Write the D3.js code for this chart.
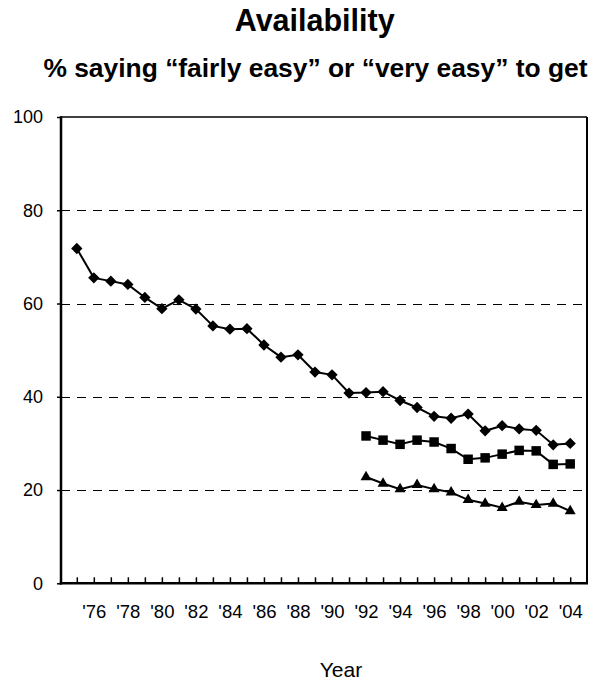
<!DOCTYPE html>
<html>
<head>
<meta charset="utf-8">
<script src="https://cdn.jsdelivr.net/npm/d3@7"></script>
<style>
  html, body { margin: 0; padding: 0; background: #fff; }
  svg { display: block; font-family: "Liberation Sans", Arial, sans-serif; }
</style>
</head>
<body>
<svg id="chart" width="605" height="685"></svg>
<script>
// ---- Data ----
const allYears = [1975,1976,1977,1978,1979,1980,1981,1982,1983,1984,1985,1986,1987,1988,1989,
                  1990,1991,1992,1993,1994,1995,1996,1997,1998,1999,2000,2001,2002,2003,2004];
const diamondValues = [71.8,65.5,64.8,64.1,61.3,58.9,60.8,58.8,55.2,54.5,54.6,51.1,48.5,49.0,45.3,
                       44.7,40.8,40.9,41.1,39.2,37.7,35.8,35.4,36.3,32.7,33.8,33.1,32.8,29.7,30.0];
const laterYears = [1992,1993,1994,1995,1996,1997,1998,1999,2000,2001,2002,2003,2004];
const squareValues = [31.6,30.7,29.8,30.7,30.3,28.9,26.6,26.9,27.7,28.5,28.4,25.5,25.6];
const triangleValues = [22.8,21.4,20.2,21.1,20.2,19.5,17.9,17.1,16.2,17.5,16.8,17.1,15.5];
const yTicks = [0,20,40,60,80,100];
const gridValues = [20,40,60,80];
const labelYears = [1976,1978,1980,1982,1984,1986,1988,1990,1992,1994,1996,1998,2000,2002,2004];
const titleText = "Availability";
const subtitleText = "% saying \u201cfairly easy\u201d or \u201cvery easy\u201d to get";
const xTitle = "Year";

// ---- Layout ----
const svg = d3.select("#chart");
const plotLeft = 61, plotRight = 587, plotTop = 117, plotBottom = 583.3;

const x = d3.scaleLinear().domain([1975, 2004]).range([76.8, 570.2]);
const y = d3.scaleLinear().domain([0, 100]).range([plotBottom, plotTop]);

// Titles
svg.append("text")
  .attr("x", 314.7).attr("y", 31)
  .attr("text-anchor", "middle")
  .attr("font-weight", "bold").attr("font-size", 30.5)
  .text(titleText);
svg.append("text")
  .attr("x", 315.5).attr("y", 76.5)
  .attr("text-anchor", "middle")
  .attr("font-weight", "bold").attr("font-size", 26.4)
  .text(subtitleText);

// Gridlines
svg.append("g").selectAll("line").data(gridValues).join("line")
  .attr("x1", plotLeft).attr("x2", plotRight)
  .attr("y1", d => Math.round(y(d)) + 0.5).attr("y2", d => Math.round(y(d)) + 0.5)
  .attr("stroke", "#000").attr("stroke-width", 1)
  .attr("stroke-dasharray", "9,7");

// Frame top & right
svg.append("line").attr("x1", plotLeft).attr("x2", plotRight)
  .attr("y1", plotTop).attr("y2", plotTop)
  .attr("stroke", "#000").attr("stroke-width", 1.6);
svg.append("line").attr("x1", plotRight).attr("x2", plotRight)
  .attr("y1", plotTop).attr("y2", plotBottom)
  .attr("stroke", "#000").attr("stroke-width", 2);

// Y axis
const yAxis = d3.axisLeft(y).tickValues(yTicks).tickSize(4).tickPadding(14).tickFormat(d3.format("d"));
const gy = svg.append("g").attr("transform", `translate(${plotLeft},0)`).call(yAxis);
gy.select(".domain").remove();
gy.selectAll("line").attr("stroke", "#000").attr("stroke-width", 1.5);
gy.selectAll("text").attr("font-size", 18).attr("fill", "#000")
  .attr("font-family", "Liberation Sans, Arial, sans-serif");
svg.append("line").attr("x1", plotLeft).attr("x2", plotLeft)
  .attr("y1", plotTop - 0.8).attr("y2", plotBottom + 1.2)
  .attr("stroke", "#000").attr("stroke-width", 2.5);

// X axis ticks (inward) for every year
const xTickAxis = d3.axisBottom(x).tickValues(allYears).tickSize(-6).tickFormat("");
const gxt = svg.append("g").attr("transform", `translate(0,${plotBottom})`).call(xTickAxis);
gxt.select(".domain").remove();
gxt.selectAll("line").attr("stroke", "#000").attr("stroke-width", 1.5);

// X axis labels every other year
const xLabelAxis = d3.axisBottom(x).tickValues(labelYears).tickSize(0).tickPadding(22)
  .tickFormat(d => "'" + String(d).slice(2));
const gxl = svg.append("g").attr("transform", `translate(0,${plotBottom})`).call(xLabelAxis);
gxl.select(".domain").remove();
gxl.selectAll("text").attr("font-size", 18.5).attr("fill", "#000")
  .attr("font-family", "Liberation Sans, Arial, sans-serif");

svg.append("line").attr("x1", plotLeft - 1.2).attr("x2", plotRight + 1)
  .attr("y1", plotBottom).attr("y2", plotBottom)
  .attr("stroke", "#000").attr("stroke-width", 2.5);

// X title
svg.append("text")
  .attr("x", 341).attr("y", 677)
  .attr("text-anchor", "middle")
  .attr("font-size", 21)
  .text(xTitle);

// ---- Series ----
const line = d3.line().x(d => x(d[0])).y(d => y(d[1]));
const seriesDiamond = allYears.map((yr, i) => [yr, diamondValues[i]]);
const seriesSquare = laterYears.map((yr, i) => [yr, squareValues[i]]);
const seriesTriangle = laterYears.map((yr, i) => [yr, triangleValues[i]]);

[seriesDiamond, seriesSquare, seriesTriangle].forEach(s => {
  svg.append("path").datum(s).attr("d", line)
    .attr("fill", "none").attr("stroke", "#000").attr("stroke-width", 2);
});

const diamondSym = d3.symbol().type(d3.symbolSquare).size(64);
svg.append("g").selectAll("path").data(seriesDiamond).join("path")
  .attr("d", diamondSym)
  .attr("transform", d => `translate(${x(d[0])},${y(d[1])}) rotate(45)`)
  .attr("fill", "#000");

const squareSym = d3.symbol().type(d3.symbolSquare).size(90);
svg.append("g").selectAll("path").data(seriesSquare).join("path")
  .attr("d", squareSym)
  .attr("transform", d => `translate(${x(d[0])},${y(d[1])})`)
  .attr("fill", "#000");

const triSym = d3.symbol().type(d3.symbolTriangle).size(52);
svg.append("g").selectAll("path").data(seriesTriangle).join("path")
  .attr("d", triSym)
  .attr("transform", d => `translate(${x(d[0])},${y(d[1])})`)
  .attr("fill", "#000");
</script>
</body>
</html>
